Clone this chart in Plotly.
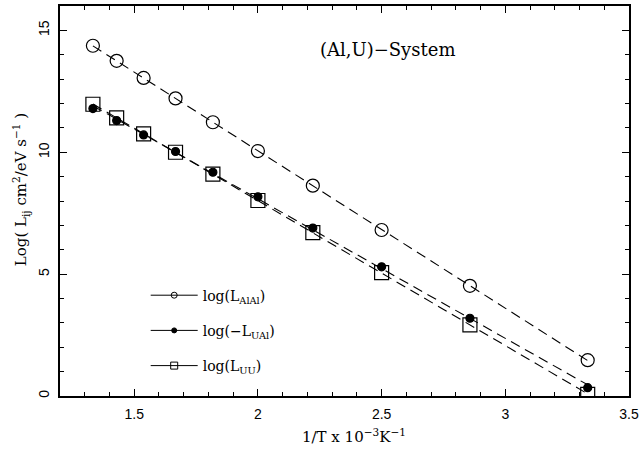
import numpy as np
import plotly.graph_objects as go

# 1/T in units of 10^-3 K^-1
inv_T = [1.333, 1.429, 1.538, 1.667, 1.818, 2.0, 2.222, 2.5, 2.857, 3.333]
log_L_AlAl = [14.37, 13.75, 13.05, 12.21, 11.23, 10.05, 8.63, 6.81, 4.52, 1.47]
log_mL_UAl = [11.79, 11.30, 10.71, 10.03, 9.18, 8.17, 6.89, 5.30, 3.19, 0.34]
log_L_UU = [11.97, 11.41, 10.75, 10.00, 9.10, 8.02, 6.70, 5.06, 2.92, 0.07]

legend_names = ["log(L<sub>AlAl</sub>)", "log(\u2212L<sub>UAl</sub>)", "log(L<sub>UU</sub>)"]
x_ticks = [1.5, 2, 2.5, 3, 3.5]
y_ticks = [0, 5, 10, 15]

SERIF = "DejaVu Serif"
SANS = "Liberation Sans"

W, H = 643, 457
l, r, t, b = 60, 12, 4, 61
pw, ph = W - l - r, H - t - b
def px2paper(px, py):
    return (px - l) / pw, (H - b - py) / ph

fig = go.Figure()

series = [
    (log_L_AlAl, "circle-open", 13),
    (log_mL_UAl, "circle", 8),
    (log_L_UU, "square-open", 14),
]

x_arr = np.array(inv_T)
xfit = np.array([x_arr.min(), x_arr.max()])
# fitted dashed lines
for ys, sym, sz in series:
    p = np.polyfit(x_arr, np.array(ys), 1)
    fig.add_trace(go.Scatter(
        x=xfit, y=np.polyval(p, xfit), mode="lines",
        line=dict(color="black", width=1.1, dash="10px,6px"),
        showlegend=False, hoverinfo="skip"))

# data markers
for ys, sym, sz in series:
    fig.add_trace(go.Scatter(
        x=inv_T, y=ys, mode="markers",
        marker=dict(symbol=sym, size=sz, color="black",
                    line=dict(color="black", width=1.2)),
        showlegend=False))

# legend entries
leg_syms = [("circle-open", 6), ("circle", 5), ("square-open", 7)]
for i, (name, (sym, sz)) in enumerate(zip(legend_names, leg_syms)):
    fig.add_trace(go.Scatter(
        x=[None], y=[None], mode="lines+markers", name=name,
        legendgroup=f"g{i}",
        line=dict(color="black", width=1),
        marker=dict(symbol=sym, size=sz, color="black",
                    line=dict(color="black", width=1))))

axis_common = dict(
    showgrid=False, zeroline=False, showline=True, linecolor="black",
    linewidth=1.5, mirror="allticks", ticks="inside", tickcolor="black",
    tickwidth=1, ticklen=7,
    tickfont=dict(family=SANS, size=14, color="black"),
)

fig.update_xaxes(range=[1.2, 3.5], tickvals=x_ticks,
                 ticktext=[str(v) for v in x_ticks],
                 minor=dict(dtick=0.1, tick0=1.2, ticks="inside", ticklen=4,
                            tickcolor="black", tickwidth=1),
                 ticklabelstandoff=4, **axis_common)
fig.update_yaxes(range=[0, 16], tickvals=y_ticks, tickangle=-90,
                 minor=dict(dtick=1, tick0=0, ticks="inside", ticklen=4,
                            tickcolor="black", tickwidth=1),
                 ticklabelstandoff=4, **axis_common)

def add_text(text, px, py, size, angle=0):
    xx, yy = px2paper(px, py)
    fig.add_annotation(text=text, x=xx, y=yy, xref="paper", yref="paper",
                       xanchor="center", yanchor="middle", showarrow=False,
                       textangle=angle,
                       font=dict(family=SERIF, size=size, color="black"))

add_text("(Al,U)\u2212System", 389, 48, 18)
add_text("1/T x 10<sup>\u22123</sup>K<sup>\u22121</sup>", 355, 436, 15)
add_text("Log( L<sub>ij</sub> cm<sup>2</sup>/eV s<sup>\u22121</sup> )", 20, 189, 15, -90)

lx, ly = px2paper(146, 279)
fig.update_layout(
    width=W, height=H,
    margin=dict(l=l, r=r, t=t, b=b),
    paper_bgcolor="white", plot_bgcolor="white",
    showlegend=True,
    legend=dict(x=lx, y=ly, xanchor="left", yanchor="top",
                bgcolor="rgba(0,0,0,0)", borderwidth=0,
                tracegroupgap=14, itemwidth=47,
                font=dict(family=SERIF, size=14, color="black")),
)

fig.write_html("out.html", config={"displayModeBar": False},
               post_script="document.body.style.margin='0px';")
